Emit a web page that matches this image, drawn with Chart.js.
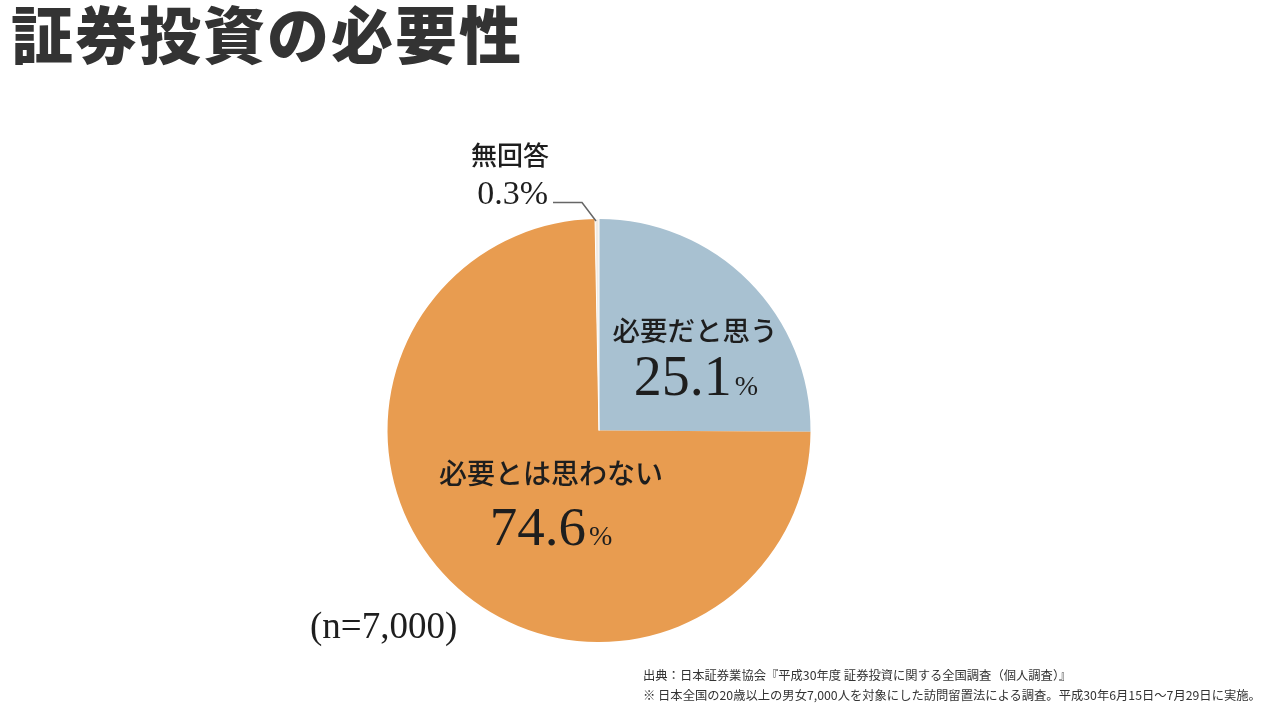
<!DOCTYPE html>
<html lang="ja">
<head>
<meta charset="utf-8">
<script src="https://cdn.jsdelivr.net/npm/chart.js@4/dist/chart.umd.min.js"></script>
<style>
  html,body{margin:0;padding:0;background:#fff;width:1280px;height:720px;overflow:hidden;}
  #wrap{position:relative;width:1280px;height:720px;}
  #title{position:absolute;left:11px;top:-4px;font-family:"Noto Sans CJK JP",sans-serif;font-weight:900;font-size:62px;line-height:72px;color:#333;letter-spacing:2px;}
  .note{position:absolute;left:643px;font-family:"Noto Sans CJK JP",sans-serif;font-size:12.3px;color:#333;white-space:nowrap;}
  canvas{position:absolute;left:0;top:0;}
</style>
</head>
<body>
<div id="wrap">
  <canvas id="c" width="1280" height="720"></canvas>
  <div id="title">証券投資の必要性</div>
  <div class="note" style="top:666px;">出典：日本証券業協会『平成30年度 証券投資に関する全国調査（個人調査）』</div>
  <div class="note" style="top:686px;">※ 日本全国の20歳以上の男女7,000人を対象にした訪問留置法による調査。平成30年6月15日～7月29日に実施。</div>
</div>
<script>
const categories = ["必要だと思う", "必要とは思わない", "無回答"];
const values = [25.1, 74.6, 0.3];
const colors = ["#a8c1d1", "#e89c50", "#f1ebe4"];
const sampleNote = "(n=7,000)";

const serif = '"Liberation Serif","DejaVu Serif","Noto Sans CJK JP",serif';
const jp = '"Noto Sans CJK JP",sans-serif';

function pctText(ctx, num, cx, baseY, bigSize, smallSize) {
  ctx.font = bigSize + "px " + serif;
  const w1 = ctx.measureText(num).width;
  ctx.font = smallSize + "px " + serif;
  const w2 = ctx.measureText("%").width;
  const x0 = cx - (w1 + w2 + 3) / 2;
  ctx.textAlign = "left";
  ctx.textBaseline = "alphabetic";
  ctx.font = bigSize + "px " + serif;
  ctx.fillText(num, x0, baseY);
  ctx.font = smallSize + "px " + serif;
  ctx.fillText("%", x0 + w1 + 3, baseY);
}

const labelPlugin = {
  id: "labels",
  afterDatasetsDraw(chart) {
    const ctx = chart.ctx;
    const arc = chart.getDatasetMeta(0).data[0];
    const cx = arc.x, cy = arc.y, r = arc.outerRadius;
    ctx.save();
    ctx.fillStyle = "#1e1e1e";
    // 必要だと思う
    ctx.textAlign = "center"; ctx.textBaseline = "middle";
    ctx.font = "500 27.5px " + jp;
    ctx.fillText(categories[0], cx + 96, cy - 100);
    pctText(ctx, values[0].toFixed(1), cx + 97, cy - 36, 56, 28);
    // 必要とは思わない
    ctx.textAlign = "center"; ctx.textBaseline = "middle";
    ctx.font = "500 28px " + jp;
    ctx.fillText(categories[1], cx - 48, cy + 43);
    pctText(ctx, values[1].toFixed(1), cx - 48, cy + 114, 55, 28);
    // 無回答
    ctx.textAlign = "center"; ctx.textBaseline = "middle";
    ctx.font = "500 26px " + jp;
    ctx.fillText(categories[2], cx - 89, cy - 275);
    ctx.font = "34px " + serif;
    ctx.textAlign = "right"; ctx.textBaseline = "alphabetic";
    ctx.fillText(values[2].toFixed(1) + "%", cx - 51, cy - 227);
    // leader line
    ctx.strokeStyle = "#666"; ctx.lineWidth = 1.5;
    ctx.beginPath();
    ctx.moveTo(cx - 46, cy - 228);
    ctx.lineTo(cx - 17, cy - 228);
    ctx.lineTo(cx - 3, cy - r + 2);
    ctx.stroke();
    // n
    ctx.font = "37px " + serif;
    ctx.textAlign = "left"; ctx.textBaseline = "alphabetic";
    ctx.fillText(sampleNote, cx - 289, cy + 207);
    ctx.restore();
  }
};

new Chart(document.getElementById("c"), {
  type: "pie",
  data: {
    labels: categories,
    datasets: [{
      data: values,
      backgroundColor: colors,
      borderColor: ["#a8c1d1", "#e89c50", "#ffffff"],
      borderWidth: [0, 0, 1]
    }]
  },
  options: {
    responsive: false,
    animation: false,
    rotation: 0,
    layout: { padding: { left: 387, right: 469, top: 218, bottom: 77 } },
    plugins: { legend: { display: false }, tooltip: { enabled: false } }
  },
  plugins: [labelPlugin]
});
</script>
</body>
</html>
